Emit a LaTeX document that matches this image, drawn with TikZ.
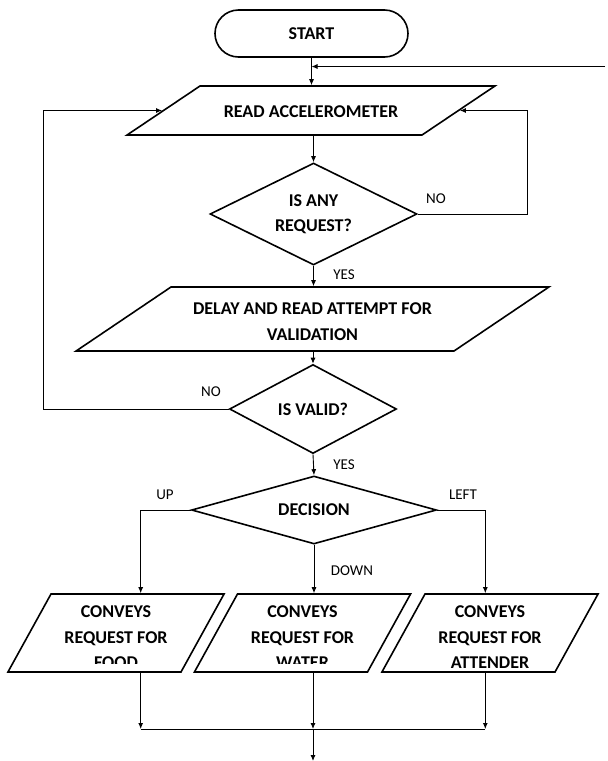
\documentclass[tikz,border=0pt]{standalone}
\usepackage{fontspec}
\setmainfont{Carlito}
\usetikzlibrary{arrows.meta,calc,positioning,shapes.geometric,shapes.misc}

\begin{document}
\begin{tikzpicture}[x=1pt,y=-1pt,
  font=\fontsize{18}{25.5}\selectfont\bfseries,
  box/.style={draw,line width=1.6pt,align=center,inner sep=0pt},
  io/.style={box,align=flush center,trapezium,trapezium left angle=#1,
    trapezium right angle=180-#1},
  test/.style={box,diamond,aspect=2},
  conn/.style={line width=0.9pt,-{Latex[length=6pt,width=5pt]}},
  lbl/.style={font=\fontsize{15}{18}\selectfont,inner sep=0pt}]
  \useasboundingbox (0,0) rectangle (608,761);

  \node[box,rounded rectangle,minimum width=193pt,minimum height=47pt]
    (start) at (311.5,33.5) {START};
  \node[io=33.9,text width=222pt,text height=31.8pt,text depth=17.2pt]
    (read) at (311,110.5) {READ ACCELEROMETER};
  \node[test,minimum width=207pt,minimum height=102pt]
    (isreq) at (313.5,214) {IS ANY\\REQUEST?};
  \node[io=34,text width=283pt,text height=27.8pt,text depth=36.2pt]
    (delay) at (312.5,319) {DELAY AND READ ATTEMPT FOR\\VALIDATION};
  \node[test,minimum width=167pt,minimum height=89pt]
    (valid) at (313,409) {IS VALID?};
  \node[test,minimum width=245pt,minimum height=68pt]
    (decide) at (314,510) {DECISION};

  % last line of the two left boxes is cut off
  \begin{scope}[even odd rule]
    \clip (0,0) rectangle (608,761)
      (70,663) rectangle (172,669.9) (212,663) rectangle (362,669.9);
    \node[io=61.1,text width=130pt,text height=23.8pt,text depth=54.2pt]
      (food) at (116,633) {CONVEYS\\REQUEST FOR\\FOOD};
    \node[io=61.1,text width=130pt,text height=23.8pt,text depth=54.2pt]
      (water) at (302.5,633) {CONVEYS\\REQUEST FOR\\WATER};
  \end{scope}
  \node[io=61.1,text width=130pt,text height=23.8pt,text depth=54.2pt]
    (attender) at (490,633) {CONVEYS\\REQUEST FOR\\ATTENDER};

  \coordinate (back) at (605,66.5);
  \coordinate (join) at (313,729);

  \draw[conn] (start.south) -- (start.south |- read.north);
  \draw[conn] (back) -- (start.south |- back);
  \draw[conn] (isreq.north |- read.south) -- (isreq.north);
  \draw[conn] (isreq.east) -- ++(110,0) |- (read.east);
  \draw[conn] (isreq.south) -- (isreq.south |- delay.north);
  \draw[conn] (valid.north |- delay.south) -- (valid.north);
  \draw[conn] (valid.west) -- ++(-185,0) |- (read.west);
  \draw[conn] (valid.south) -- (decide.north);
  \draw[conn] (decide.west) -- ++(-50,0) coordinate (upbend)
    -- (upbend |- food.north);
  \draw[conn] (decide.east) -- ++(48,0) coordinate (leftbend)
    -- (leftbend |- attender.north);
  \draw[conn] (decide.south) -- (decide.south |- water.north);
  \draw[conn] (upbend |- food.south) -- (upbend |- join);
  \draw[conn] (join |- water.south) -- (join);
  \draw[conn] (leftbend |- attender.south) -- (leftbend |- join);
  \draw[line width=0.9pt] (upbend |- join) -- (leftbend |- join);
  \draw[conn] (join) -- ++(0,32);

  \node[lbl] (noreq) at (436,199) {NO};
  \node[lbl] (yesreq) at (344,275) {YES};
  \node[lbl] (novalid) at (211,392) {NO};
  \node[lbl] (yesvalid) at (344,465) {YES};
  \node[lbl] (uplbl) at (165,495) {UP};
  \node[lbl] (leftlbl) at (463,495) {LEFT};
  \node[lbl] (downlbl) at (352,571) {DOWN};
\end{tikzpicture}
\end{document}
